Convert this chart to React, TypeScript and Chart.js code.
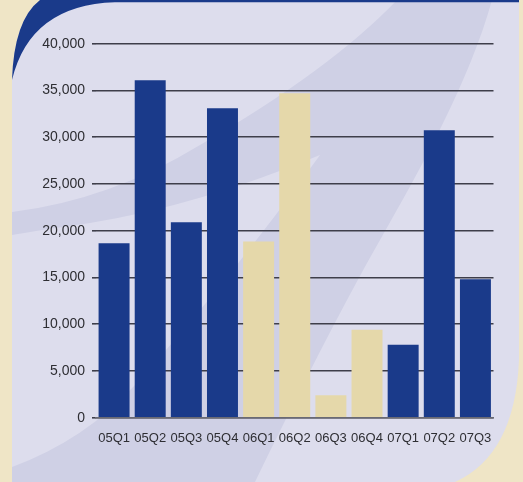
import React, { useEffect, useRef } from "react";
import { Chart, registerables } from "chart.js";

Chart.register(...registerables);

const quarters = ["05Q1", "05Q2", "05Q3", "05Q4", "06Q1", "06Q2", "06Q3", "06Q4", "07Q1", "07Q2", "07Q3"];
const volumes = [18650, 36100, 20900, 33100, 18850, 34700, 2400, 9400, 7800, 30750, 14800];
// 2006 quarters are highlighted in sand, the rest in navy
const highlightYear = "06";

const NAVY = "#1a3a8a";
const SAND = "#e5d8aa";
const OUTER = "#efe5c6";
const PANEL = "#dddded";
const SWOOSH = "#cfd0e5";

const W = 523;
const H = 482;

// Decorative panel behind the plot: rounded panel, navy top edge and a soft swoosh
const backdrop = {
  id: "backdrop",
  beforeDraw(chart: Chart) {
    const ctx = chart.ctx;
    ctx.save();
    ctx.fillStyle = OUTER;
    ctx.fillRect(0, 0, W, H);

    // panel
    ctx.fillStyle = PANEL;
    ctx.beginPath();
    ctx.moveTo(12, 80);
    ctx.quadraticCurveTo(14, 20, 40, 0);
    ctx.lineTo(519, 0);
    ctx.lineTo(519, 360);
    ctx.quadraticCurveTo(515, 455, 455, 482);
    ctx.lineTo(12, 482);
    ctx.closePath();
    ctx.fill();

    // swoosh
    ctx.save();
    ctx.clip();
    ctx.fillStyle = SWOOSH;
    ctx.beginPath();
    ctx.moveTo(397, 0);
    ctx.lineTo(492, 0);
    ctx.bezierCurveTo(470, 80, 420, 170, 380, 240);
    ctx.bezierCurveTo(340, 310, 290, 410, 255, 482);
    ctx.lineTo(12, 482);
    ctx.lineTo(12, 467);
    ctx.quadraticCurveTo(85, 440, 135, 385);
    ctx.quadraticCurveTo(230, 280, 320, 155);
    ctx.quadraticCurveTo(200, 205, 90, 223);
    ctx.quadraticCurveTo(40, 230, 12, 235);
    ctx.lineTo(12, 212);
    ctx.quadraticCurveTo(110, 200, 200, 145);
    ctx.quadraticCurveTo(330, 70, 397, 0);
    ctx.closePath();
    ctx.fill();
    ctx.restore();

    // navy crescent at the top-left corner and the top edge
    ctx.fillStyle = NAVY;
    ctx.beginPath();
    ctx.moveTo(12, 80);
    ctx.quadraticCurveTo(14, 20, 40, 0);
    ctx.lineTo(519, 0);
    ctx.lineTo(519, 2.3);
    ctx.lineTo(115, 2.3);
    ctx.quadraticCurveTo(30, 5, 12, 80);
    ctx.closePath();
    ctx.fill();
    ctx.restore();
  },
};

export default function App() {
  const ref = useRef<HTMLCanvasElement | null>(null);

  useEffect(() => {
    document.body.style.margin = "0";
    if (!ref.current) return;
    Chart.defaults.font.family = "'Liberation Sans', Arial, sans-serif";
    const chart = new Chart(ref.current, {
      type: "bar",
      data: {
        labels: quarters,
        datasets: [
          {
            data: volumes,
            backgroundColor: quarters.map((q) => (q.startsWith(highlightYear) ? SAND : NAVY)),
            borderWidth: 0,
            categoryPercentage: 1,
            barPercentage: 0.857,
          },
        ],
      },
      options: {
        responsive: false,
        animation: false,
        layout: { padding: { top: 43.7, right: 29.5, left: 0, bottom: 0 } },
        plugins: { legend: { display: false }, tooltip: { enabled: false } },
        scales: {
          x: {
            grid: { display: false },
            border: { display: true, color: "#6a6a74", width: 1.5 },
            ticks: { color: "#2e2e33", font: { size: 13 }, padding: 5, maxRotation: 0 },
            afterFit(scale: any) {
              scale.height = 64.3;
            },
          },
          y: {
            min: 0,
            max: 40000,
            ticks: {
              stepSize: 5000,
              color: "#2e2e33",
              font: { size: 14 },
              padding: 7,
              callback: (v: any) => Number(v).toLocaleString("en-US"),
            },
            grid: {
              color: "#3e3e4a",
              lineWidth: 1.6,
              tickLength: 4,
              drawTicks: true,
            },
            border: { display: false },
            afterFit(scale: any) {
              scale.width = 96;
            },
          },
        },
      },
      plugins: [backdrop],
    });
    return () => chart.destroy();
  }, []);

  return <canvas ref={ref} width={W} height={H} style={{ display: "block" }} />;
}
